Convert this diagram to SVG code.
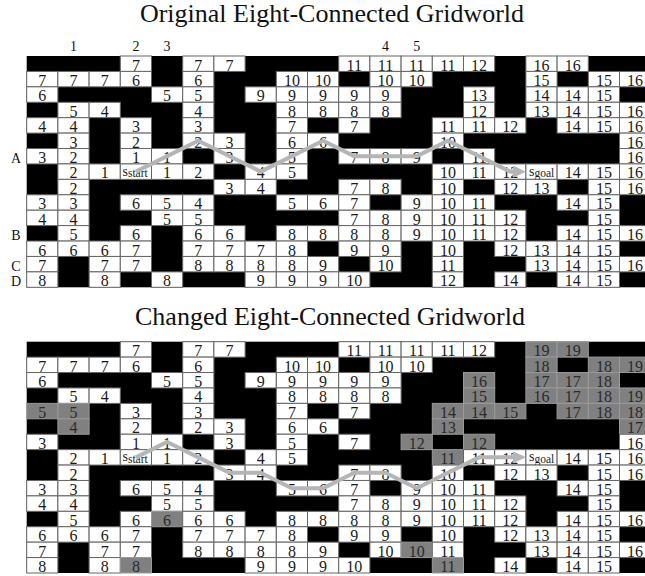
<svg xmlns="http://www.w3.org/2000/svg" width="645" height="576" viewBox="0 0 645 576">
<style>
.bg{fill:#000}
rect.w{fill:#fff;stroke:#666;stroke-width:1;width:31.2px;height:15.42px}
rect.g{fill:#808080;stroke:#9a9a9a;stroke-width:1;width:31.2px;height:15.42px}
.t{font-family:"Liberation Serif","Times New Roman",serif;font-size:16px;text-anchor:middle;fill:#1a1a1a}
.gt{fill:#2a2a2a}
.s{font-family:"Liberation Serif","Times New Roman",serif;fill:#1a1a1a}
.ttl{font-family:"Liberation Serif","Times New Roman",serif;font-size:26px;text-anchor:middle;fill:#111}
.lbl{font-family:"Liberation Serif","Times New Roman",serif;font-size:14px;text-anchor:middle;fill:#111}
.pth{fill:none;stroke:#b5b5b5;stroke-width:4}
</style>
<defs>
<marker id="ah" markerUnits="userSpaceOnUse" markerWidth="14" markerHeight="13" refX="3" refY="6" orient="auto"><path d="M0,0 L13,6 L0,12 z" fill="#b5b5b5"/></marker>
</defs>

<text class="ttl" x="332" y="21.5">Original Eight-Connected Gridworld</text>
<g id="labels" class="lbl">
<text x="73.5" y="50.5">1</text><text x="135.9" y="50.5">2</text><text x="167.1" y="50.5">3</text><text x="385.5" y="50.5">4</text><text x="416.7" y="50.5">5</text>
<text x="16" y="162.5">A</text><text x="16" y="239.6">B</text><text x="16" y="270.5">C</text><text x="16" y="285.9">D</text>
</g>

<g id="grid-original">
<rect class="bg" x="26.7" y="56" width="620" height="231.3"/>
<g transform="translate(0,56)"><rect class="w" x="120.3"/><rect class="w" x="182.7"/><rect class="w" x="213.9"/><rect class="w" x="338.7"/><rect class="w" x="369.9"/><rect class="w" x="401.1"/><rect class="w" x="432.3"/><rect class="w" x="463.5"/><rect class="w" x="525.9"/><rect class="w" x="557.1"/>
<text class="t" y="14.5"><tspan x="135.9">7</tspan><tspan x="198.3">7</tspan><tspan x="229.5">7</tspan><tspan x="354.3">11</tspan><tspan x="385.5">11</tspan><tspan x="416.7">11</tspan><tspan x="447.9">11</tspan><tspan x="479.1">12</tspan><tspan x="541.5">16</tspan><tspan x="572.7">16</tspan></text></g>
<g transform="translate(0,71.42)"><rect class="w" x="26.7"/><rect class="w" x="57.9"/><rect class="w" x="89.1"/><rect class="w" x="120.3"/><rect class="w" x="182.7"/><rect class="w" x="276.3"/><rect class="w" x="307.5"/><rect class="w" x="369.9"/><rect class="w" x="401.1"/><rect class="w" x="525.9"/><rect class="w" x="588.3"/><rect class="w" x="619.5"/>
<text class="t" y="14.5"><tspan x="42.3">7</tspan><tspan x="73.5">7</tspan><tspan x="104.7">7</tspan><tspan x="135.9">6</tspan><tspan x="198.3">6</tspan><tspan x="291.9">10</tspan><tspan x="323.1">10</tspan><tspan x="385.5">10</tspan><tspan x="416.7">10</tspan><tspan x="541.5">15</tspan><tspan x="603.9">15</tspan><tspan x="635.1">16</tspan></text></g>
<g transform="translate(0,86.84)"><rect class="w" x="26.7"/><rect class="w" x="151.5"/><rect class="w" x="182.7"/><rect class="w" x="245.1"/><rect class="w" x="276.3"/><rect class="w" x="307.5"/><rect class="w" x="338.7"/><rect class="w" x="369.9"/><rect class="w" x="463.5"/><rect class="w" x="525.9"/><rect class="w" x="557.1"/><rect class="w" x="588.3"/>
<text class="t" y="14.5"><tspan x="42.3">6</tspan><tspan x="167.1">5</tspan><tspan x="198.3">5</tspan><tspan x="260.7">9</tspan><tspan x="291.9">9</tspan><tspan x="323.1">9</tspan><tspan x="354.3">9</tspan><tspan x="385.5">9</tspan><tspan x="479.1">13</tspan><tspan x="541.5">14</tspan><tspan x="572.7">14</tspan><tspan x="603.9">15</tspan></text></g>
<g transform="translate(0,102.26)"><rect class="w" x="57.9"/><rect class="w" x="89.1"/><rect class="w" x="182.7"/><rect class="w" x="276.3"/><rect class="w" x="307.5"/><rect class="w" x="338.7"/><rect class="w" x="369.9"/><rect class="w" x="463.5"/><rect class="w" x="525.9"/><rect class="w" x="557.1"/><rect class="w" x="588.3"/><rect class="w" x="619.5"/>
<text class="t" y="14.5"><tspan x="73.5">5</tspan><tspan x="104.7">4</tspan><tspan x="198.3">4</tspan><tspan x="291.9">8</tspan><tspan x="323.1">8</tspan><tspan x="354.3">8</tspan><tspan x="385.5">8</tspan><tspan x="479.1">12</tspan><tspan x="541.5">13</tspan><tspan x="572.7">14</tspan><tspan x="603.9">15</tspan><tspan x="635.1">16</tspan></text></g>
<g transform="translate(0,117.68)"><rect class="w" x="26.7"/><rect class="w" x="57.9"/><rect class="w" x="120.3"/><rect class="w" x="182.7"/><rect class="w" x="276.3"/><rect class="w" x="338.7"/><rect class="w" x="432.3"/><rect class="w" x="463.5"/><rect class="w" x="494.7"/><rect class="w" x="557.1"/><rect class="w" x="588.3"/><rect class="w" x="619.5"/>
<text class="t" y="14.5"><tspan x="42.3">4</tspan><tspan x="73.5">4</tspan><tspan x="135.9">3</tspan><tspan x="198.3">3</tspan><tspan x="291.9">7</tspan><tspan x="354.3">7</tspan><tspan x="447.9">11</tspan><tspan x="479.1">11</tspan><tspan x="510.3">12</tspan><tspan x="572.7">14</tspan><tspan x="603.9">15</tspan><tspan x="635.1">16</tspan></text></g>
<g transform="translate(0,133.1)"><rect class="w" x="57.9"/><rect class="w" x="120.3"/><rect class="w" x="182.7"/><rect class="w" x="213.9"/><rect class="w" x="276.3"/><rect class="w" x="307.5"/><rect class="w" x="432.3"/><rect class="w" x="619.5"/>
<text class="t" y="14.5"><tspan x="73.5">3</tspan><tspan x="135.9">2</tspan><tspan x="198.3">2</tspan><tspan x="229.5">3</tspan><tspan x="291.9">6</tspan><tspan x="323.1">6</tspan><tspan x="447.9">10</tspan><tspan x="635.1">16</tspan></text></g>
<g transform="translate(0,148.52)"><rect class="w" x="26.7"/><rect class="w" x="57.9"/><rect class="w" x="120.3"/><rect class="w" x="151.5"/><rect class="w" x="213.9"/><rect class="w" x="276.3"/><rect class="w" x="338.7"/><rect class="w" x="369.9"/><rect class="w" x="401.1"/><rect class="w" x="463.5"/><rect class="w" x="619.5"/>
<text class="t" y="14.5"><tspan x="42.3">3</tspan><tspan x="73.5">2</tspan><tspan x="135.9">1</tspan><tspan x="167.1">1</tspan><tspan x="229.5">3</tspan><tspan x="291.9">5</tspan><tspan x="354.3">7</tspan><tspan x="385.5">8</tspan><tspan x="416.7">9</tspan><tspan x="479.1">11</tspan><tspan x="635.1">16</tspan></text></g>
<g transform="translate(0,163.94)"><rect class="w" x="57.9"/><rect class="w" x="89.1"/><rect class="w" x="120.3"/><rect class="w" x="151.5"/><rect class="w" x="182.7"/><rect class="w" x="245.1"/><rect class="w" x="276.3"/><rect class="w" x="432.3"/><rect class="w" x="463.5"/><rect class="w" x="494.7"/><rect class="w" x="525.9"/><rect class="w" x="557.1"/><rect class="w" x="588.3"/><rect class="w" x="619.5"/>
<text class="t" y="14.5"><tspan x="73.5">2</tspan><tspan x="104.7">1</tspan><tspan x="167.1">1</tspan><tspan x="198.3">2</tspan><tspan x="260.7">4</tspan><tspan x="291.9">5</tspan><tspan x="447.9">10</tspan><tspan x="479.1">11</tspan><tspan x="510.3">12</tspan><tspan x="572.7">14</tspan><tspan x="603.9">15</tspan><tspan x="635.1">16</tspan></text>
<text class="s" x="122.5" y="11.8" font-size="14">s<tspan dy="1.3" font-size="11.5">start</tspan></text>
<text class="s" x="529" y="11.8" font-size="14">s<tspan dy="1.3" font-size="11.5">goal</tspan></text></g>
<g transform="translate(0,179.36)"><rect class="w" x="57.9"/><rect class="w" x="213.9"/><rect class="w" x="245.1"/><rect class="w" x="338.7"/><rect class="w" x="369.9"/><rect class="w" x="432.3"/><rect class="w" x="494.7"/><rect class="w" x="525.9"/><rect class="w" x="588.3"/><rect class="w" x="619.5"/>
<text class="t" y="14.5"><tspan x="73.5">2</tspan><tspan x="229.5">3</tspan><tspan x="260.7">4</tspan><tspan x="354.3">7</tspan><tspan x="385.5">8</tspan><tspan x="447.9">10</tspan><tspan x="510.3">12</tspan><tspan x="541.5">13</tspan><tspan x="603.9">15</tspan><tspan x="635.1">16</tspan></text></g>
<g transform="translate(0,194.78)"><rect class="w" x="26.7"/><rect class="w" x="57.9"/><rect class="w" x="120.3"/><rect class="w" x="151.5"/><rect class="w" x="182.7"/><rect class="w" x="276.3"/><rect class="w" x="307.5"/><rect class="w" x="338.7"/><rect class="w" x="401.1"/><rect class="w" x="432.3"/><rect class="w" x="463.5"/><rect class="w" x="557.1"/><rect class="w" x="588.3"/>
<text class="t" y="14.5"><tspan x="42.3">3</tspan><tspan x="73.5">3</tspan><tspan x="135.9">6</tspan><tspan x="167.1">5</tspan><tspan x="198.3">4</tspan><tspan x="291.9">5</tspan><tspan x="323.1">6</tspan><tspan x="354.3">7</tspan><tspan x="416.7">9</tspan><tspan x="447.9">10</tspan><tspan x="479.1">11</tspan><tspan x="572.7">14</tspan><tspan x="603.9">15</tspan></text></g>
<g transform="translate(0,210.2)"><rect class="w" x="26.7"/><rect class="w" x="57.9"/><rect class="w" x="151.5"/><rect class="w" x="182.7"/><rect class="w" x="338.7"/><rect class="w" x="369.9"/><rect class="w" x="401.1"/><rect class="w" x="432.3"/><rect class="w" x="463.5"/><rect class="w" x="494.7"/><rect class="w" x="588.3"/>
<text class="t" y="14.5"><tspan x="42.3">4</tspan><tspan x="73.5">4</tspan><tspan x="167.1">5</tspan><tspan x="198.3">5</tspan><tspan x="354.3">7</tspan><tspan x="385.5">8</tspan><tspan x="416.7">9</tspan><tspan x="447.9">10</tspan><tspan x="479.1">11</tspan><tspan x="510.3">12</tspan><tspan x="603.9">15</tspan></text></g>
<g transform="translate(0,225.62)"><rect class="w" x="57.9"/><rect class="w" x="120.3"/><rect class="w" x="182.7"/><rect class="w" x="213.9"/><rect class="w" x="276.3"/><rect class="w" x="307.5"/><rect class="w" x="338.7"/><rect class="w" x="369.9"/><rect class="w" x="401.1"/><rect class="w" x="432.3"/><rect class="w" x="494.7"/><rect class="w" x="557.1"/><rect class="w" x="588.3"/><rect class="w" x="619.5"/><rect class="w" x="463.5"/>
<text class="t" y="14.5"><tspan x="73.5">5</tspan><tspan x="135.9">6</tspan><tspan x="198.3">6</tspan><tspan x="229.5">6</tspan><tspan x="291.9">8</tspan><tspan x="323.1">8</tspan><tspan x="354.3">8</tspan><tspan x="385.5">8</tspan><tspan x="416.7">9</tspan><tspan x="447.9">10</tspan><tspan x="479.1">11</tspan><tspan x="510.3">12</tspan><tspan x="572.7">14</tspan><tspan x="603.9">15</tspan><tspan x="635.1">16</tspan></text></g>
<g transform="translate(0,241.04)"><rect class="w" x="26.7"/><rect class="w" x="57.9"/><rect class="w" x="89.1"/><rect class="w" x="120.3"/><rect class="w" x="182.7"/><rect class="w" x="213.9"/><rect class="w" x="245.1"/><rect class="w" x="276.3"/><rect class="w" x="338.7"/><rect class="w" x="369.9"/><rect class="w" x="432.3"/><rect class="w" x="494.7"/><rect class="w" x="525.9"/><rect class="w" x="557.1"/><rect class="w" x="588.3"/>
<text class="t" y="14.5"><tspan x="42.3">6</tspan><tspan x="73.5">6</tspan><tspan x="104.7">6</tspan><tspan x="135.9">7</tspan><tspan x="198.3">7</tspan><tspan x="229.5">7</tspan><tspan x="260.7">7</tspan><tspan x="291.9">8</tspan><tspan x="354.3">9</tspan><tspan x="385.5">9</tspan><tspan x="447.9">10</tspan><tspan x="510.3">12</tspan><tspan x="541.5">13</tspan><tspan x="572.7">14</tspan><tspan x="603.9">15</tspan></text></g>
<g transform="translate(0,256.46)"><rect class="w" x="26.7"/><rect class="w" x="89.1"/><rect class="w" x="120.3"/><rect class="w" x="182.7"/><rect class="w" x="213.9"/><rect class="w" x="245.1"/><rect class="w" x="276.3"/><rect class="w" x="307.5"/><rect class="w" x="369.9"/><rect class="w" x="432.3"/><rect class="w" x="525.9"/><rect class="w" x="557.1"/><rect class="w" x="588.3"/><rect class="w" x="619.5"/>
<text class="t" y="14.5"><tspan x="42.3">7</tspan><tspan x="104.7">7</tspan><tspan x="135.9">7</tspan><tspan x="198.3">8</tspan><tspan x="229.5">8</tspan><tspan x="260.7">8</tspan><tspan x="291.9">8</tspan><tspan x="323.1">9</tspan><tspan x="385.5">10</tspan><tspan x="447.9">11</tspan><tspan x="541.5">13</tspan><tspan x="572.7">14</tspan><tspan x="603.9">15</tspan><tspan x="635.1">16</tspan></text></g>
<g transform="translate(0,271.88)"><rect class="w" x="26.7"/><rect class="w" x="89.1"/><rect class="w" x="151.5"/><rect class="w" x="245.1"/><rect class="w" x="276.3"/><rect class="w" x="307.5"/><rect class="w" x="338.7"/><rect class="w" x="432.3"/><rect class="w" x="494.7"/><rect class="w" x="557.1"/><rect class="w" x="588.3"/>
<text class="t" y="14.5"><tspan x="42.3">8</tspan><tspan x="104.7">8</tspan><tspan x="167.1">8</tspan><tspan x="260.7">9</tspan><tspan x="291.9">9</tspan><tspan x="323.1">9</tspan><tspan x="354.3">10</tspan><tspan x="447.9">12</tspan><tspan x="510.3">14</tspan><tspan x="572.7">14</tspan><tspan x="603.9">15</tspan></text></g>
</g>

<text class="ttl" x="330" y="325">Changed Eight-Connected Gridworld</text>

<g id="grid-changed">
<rect class="bg" x="26.7" y="341.7" width="620" height="231.3"/>
<g transform="translate(0,341.7)"><rect class="w" x="120.3"/><rect class="w" x="182.7"/><rect class="w" x="213.9"/><rect class="w" x="338.7"/><rect class="w" x="369.9"/><rect class="w" x="401.1"/><rect class="w" x="432.3"/><rect class="w" x="463.5"/><rect class="g" x="525.9"/><rect class="g" x="557.1"/>
<text class="t" y="14.5"><tspan x="135.9">7</tspan><tspan x="198.3">7</tspan><tspan x="229.5">7</tspan><tspan x="354.3">11</tspan><tspan x="385.5">11</tspan><tspan x="416.7">11</tspan><tspan x="447.9">11</tspan><tspan x="479.1">12</tspan><tspan class="gt" x="541.5">19</tspan><tspan class="gt" x="572.7">19</tspan></text></g>
<g transform="translate(0,357.12)"><rect class="w" x="26.7"/><rect class="w" x="57.9"/><rect class="w" x="89.1"/><rect class="w" x="120.3"/><rect class="w" x="182.7"/><rect class="w" x="276.3"/><rect class="w" x="307.5"/><rect class="w" x="369.9"/><rect class="w" x="401.1"/><rect class="g" x="525.9"/><rect class="g" x="588.3"/><rect class="g" x="619.5"/>
<text class="t" y="14.5"><tspan x="42.3">7</tspan><tspan x="73.5">7</tspan><tspan x="104.7">7</tspan><tspan x="135.9">6</tspan><tspan x="198.3">6</tspan><tspan x="291.9">10</tspan><tspan x="323.1">10</tspan><tspan x="385.5">10</tspan><tspan x="416.7">10</tspan><tspan class="gt" x="541.5">18</tspan><tspan class="gt" x="603.9">18</tspan><tspan class="gt" x="635.1">19</tspan></text></g>
<g transform="translate(0,372.54)"><rect class="w" x="26.7"/><rect class="w" x="151.5"/><rect class="w" x="182.7"/><rect class="w" x="245.1"/><rect class="w" x="276.3"/><rect class="w" x="307.5"/><rect class="w" x="338.7"/><rect class="w" x="369.9"/><rect class="g" x="463.5"/><rect class="g" x="525.9"/><rect class="g" x="557.1"/><rect class="g" x="588.3"/>
<text class="t" y="14.5"><tspan x="42.3">6</tspan><tspan x="167.1">5</tspan><tspan x="198.3">5</tspan><tspan x="260.7">9</tspan><tspan x="291.9">9</tspan><tspan x="323.1">9</tspan><tspan x="354.3">9</tspan><tspan x="385.5">9</tspan><tspan class="gt" x="479.1">16</tspan><tspan class="gt" x="541.5">17</tspan><tspan class="gt" x="572.7">17</tspan><tspan class="gt" x="603.9">18</tspan></text></g>
<g transform="translate(0,387.96)"><rect class="w" x="57.9"/><rect class="w" x="89.1"/><rect class="w" x="182.7"/><rect class="w" x="276.3"/><rect class="w" x="307.5"/><rect class="w" x="338.7"/><rect class="w" x="369.9"/><rect class="g" x="463.5"/><rect class="g" x="525.9"/><rect class="g" x="557.1"/><rect class="g" x="588.3"/><rect class="g" x="619.5"/>
<text class="t" y="14.5"><tspan x="73.5">5</tspan><tspan x="104.7">4</tspan><tspan x="198.3">4</tspan><tspan x="291.9">8</tspan><tspan x="323.1">8</tspan><tspan x="354.3">8</tspan><tspan x="385.5">8</tspan><tspan class="gt" x="479.1">15</tspan><tspan class="gt" x="541.5">16</tspan><tspan class="gt" x="572.7">17</tspan><tspan class="gt" x="603.9">18</tspan><tspan class="gt" x="635.1">19</tspan></text></g>
<g transform="translate(0,403.38)"><rect class="g" x="26.7"/><rect class="g" x="57.9"/><rect class="w" x="120.3"/><rect class="w" x="182.7"/><rect class="w" x="276.3"/><rect class="w" x="338.7"/><rect class="g" x="432.3"/><rect class="g" x="463.5"/><rect class="g" x="494.7"/><rect class="g" x="557.1"/><rect class="g" x="588.3"/><rect class="g" x="619.5"/>
<text class="t" y="14.5"><tspan class="gt" x="42.3">5</tspan><tspan class="gt" x="73.5">5</tspan><tspan x="135.9">3</tspan><tspan x="198.3">3</tspan><tspan x="291.9">7</tspan><tspan x="354.3">7</tspan><tspan class="gt" x="447.9">14</tspan><tspan class="gt" x="479.1">14</tspan><tspan class="gt" x="510.3">15</tspan><tspan class="gt" x="572.7">17</tspan><tspan class="gt" x="603.9">18</tspan><tspan class="gt" x="635.1">18</tspan></text></g>
<g transform="translate(0,418.8)"><rect class="g" x="57.9"/><rect class="w" x="120.3"/><rect class="w" x="182.7"/><rect class="w" x="213.9"/><rect class="w" x="276.3"/><rect class="w" x="307.5"/><rect class="g" x="432.3"/><rect class="g" x="619.5"/>
<text class="t" y="14.5"><tspan class="gt" x="73.5">4</tspan><tspan x="135.9">2</tspan><tspan x="198.3">2</tspan><tspan x="229.5">3</tspan><tspan x="291.9">6</tspan><tspan x="323.1">6</tspan><tspan class="gt" x="447.9">13</tspan><tspan class="gt" x="635.1">17</tspan></text></g>
<g transform="translate(0,434.22)"><rect class="w" x="26.7"/><rect class="w" x="120.3"/><rect class="w" x="151.5"/><rect class="w" x="213.9"/><rect class="w" x="276.3"/><rect class="w" x="338.7"/><rect class="g" x="401.1"/><rect class="g" x="463.5"/><rect class="w" x="619.5"/>
<text class="t" y="14.5"><tspan x="42.3">3</tspan><tspan x="135.9">1</tspan><tspan x="167.1">1</tspan><tspan x="229.5">3</tspan><tspan x="291.9">5</tspan><tspan x="354.3">7</tspan><tspan class="gt" x="416.7">12</tspan><tspan class="gt" x="479.1">12</tspan><tspan x="635.1">16</tspan></text></g>
<g transform="translate(0,449.64)"><rect class="w" x="57.9"/><rect class="w" x="89.1"/><rect class="w" x="120.3"/><rect class="w" x="151.5"/><rect class="w" x="182.7"/><rect class="w" x="245.1"/><rect class="w" x="276.3"/><rect class="g" x="432.3"/><rect class="w" x="463.5"/><rect class="w" x="494.7"/><rect class="w" x="525.9"/><rect class="w" x="557.1"/><rect class="w" x="588.3"/><rect class="w" x="619.5"/>
<text class="t" y="14.5"><tspan x="73.5">2</tspan><tspan x="104.7">1</tspan><tspan x="167.1">1</tspan><tspan x="198.3">2</tspan><tspan x="260.7">4</tspan><tspan x="291.9">5</tspan><tspan class="gt" x="447.9">11</tspan><tspan x="479.1">11</tspan><tspan x="510.3">12</tspan><tspan x="572.7">14</tspan><tspan x="603.9">15</tspan><tspan x="635.1">16</tspan></text>
<text class="s" x="122.5" y="11.8" font-size="14">s<tspan dy="1.3" font-size="11.5">start</tspan></text>
<text class="s" x="529" y="11.8" font-size="14">s<tspan dy="1.3" font-size="11.5">goal</tspan></text></g>
<g transform="translate(0,465.06)"><rect class="w" x="57.9"/><rect class="w" x="213.9"/><rect class="w" x="245.1"/><rect class="w" x="338.7"/><rect class="w" x="369.9"/><rect class="w" x="432.3"/><rect class="w" x="494.7"/><rect class="w" x="525.9"/><rect class="w" x="588.3"/><rect class="w" x="619.5"/>
<text class="t" y="14.5"><tspan x="73.5">2</tspan><tspan x="229.5">3</tspan><tspan x="260.7">4</tspan><tspan x="354.3">7</tspan><tspan x="385.5">8</tspan><tspan x="447.9">10</tspan><tspan x="510.3">12</tspan><tspan x="541.5">13</tspan><tspan x="603.9">15</tspan><tspan x="635.1">16</tspan></text></g>
<g transform="translate(0,480.48)"><rect class="w" x="26.7"/><rect class="w" x="57.9"/><rect class="w" x="120.3"/><rect class="w" x="151.5"/><rect class="w" x="182.7"/><rect class="w" x="276.3"/><rect class="w" x="307.5"/><rect class="w" x="338.7"/><rect class="w" x="401.1"/><rect class="w" x="432.3"/><rect class="w" x="463.5"/><rect class="w" x="557.1"/><rect class="w" x="588.3"/>
<text class="t" y="14.5"><tspan x="42.3">3</tspan><tspan x="73.5">3</tspan><tspan x="135.9">6</tspan><tspan x="167.1">5</tspan><tspan x="198.3">4</tspan><tspan x="291.9">5</tspan><tspan x="323.1">6</tspan><tspan x="354.3">7</tspan><tspan x="416.7">9</tspan><tspan x="447.9">10</tspan><tspan x="479.1">11</tspan><tspan x="572.7">14</tspan><tspan x="603.9">15</tspan></text></g>
<g transform="translate(0,495.9)"><rect class="w" x="26.7"/><rect class="w" x="57.9"/><rect class="w" x="151.5"/><rect class="w" x="182.7"/><rect class="w" x="338.7"/><rect class="w" x="369.9"/><rect class="w" x="401.1"/><rect class="w" x="432.3"/><rect class="w" x="463.5"/><rect class="w" x="494.7"/><rect class="w" x="588.3"/>
<text class="t" y="14.5"><tspan x="42.3">4</tspan><tspan x="73.5">4</tspan><tspan x="167.1">5</tspan><tspan x="198.3">5</tspan><tspan x="354.3">7</tspan><tspan x="385.5">8</tspan><tspan x="416.7">9</tspan><tspan x="447.9">10</tspan><tspan x="479.1">11</tspan><tspan x="510.3">12</tspan><tspan x="603.9">15</tspan></text></g>
<g transform="translate(0,511.32)"><rect class="w" x="57.9"/><rect class="w" x="120.3"/><rect class="g" x="151.5"/><rect class="w" x="182.7"/><rect class="w" x="213.9"/><rect class="w" x="276.3"/><rect class="w" x="307.5"/><rect class="w" x="338.7"/><rect class="w" x="369.9"/><rect class="w" x="401.1"/><rect class="w" x="432.3"/><rect class="w" x="463.5"/><rect class="w" x="494.7"/><rect class="w" x="557.1"/><rect class="w" x="588.3"/><rect class="w" x="619.5"/>
<text class="t" y="14.5"><tspan x="73.5">5</tspan><tspan x="135.9">6</tspan><tspan class="gt" x="167.1">6</tspan><tspan x="198.3">6</tspan><tspan x="229.5">6</tspan><tspan x="291.9">8</tspan><tspan x="323.1">8</tspan><tspan x="354.3">8</tspan><tspan x="385.5">8</tspan><tspan x="416.7">9</tspan><tspan x="447.9">10</tspan><tspan x="479.1">11</tspan><tspan x="510.3">12</tspan><tspan x="572.7">14</tspan><tspan x="603.9">15</tspan><tspan x="635.1">16</tspan></text></g>
<g transform="translate(0,526.74)"><rect class="w" x="26.7"/><rect class="w" x="57.9"/><rect class="w" x="89.1"/><rect class="w" x="120.3"/><rect class="w" x="182.7"/><rect class="w" x="213.9"/><rect class="w" x="245.1"/><rect class="w" x="276.3"/><rect class="w" x="338.7"/><rect class="w" x="369.9"/><rect class="w" x="432.3"/><rect class="w" x="494.7"/><rect class="w" x="525.9"/><rect class="w" x="557.1"/><rect class="w" x="588.3"/>
<text class="t" y="14.5"><tspan x="42.3">6</tspan><tspan x="73.5">6</tspan><tspan x="104.7">6</tspan><tspan x="135.9">7</tspan><tspan x="198.3">7</tspan><tspan x="229.5">7</tspan><tspan x="260.7">7</tspan><tspan x="291.9">8</tspan><tspan x="354.3">9</tspan><tspan x="385.5">9</tspan><tspan x="447.9">10</tspan><tspan x="510.3">12</tspan><tspan x="541.5">13</tspan><tspan x="572.7">14</tspan><tspan x="603.9">15</tspan></text></g>
<g transform="translate(0,542.16)"><rect class="w" x="26.7"/><rect class="w" x="89.1"/><rect class="w" x="120.3"/><rect class="w" x="182.7"/><rect class="w" x="213.9"/><rect class="w" x="245.1"/><rect class="w" x="276.3"/><rect class="w" x="307.5"/><rect class="w" x="369.9"/><rect class="g" x="401.1"/><rect class="w" x="432.3"/><rect class="w" x="525.9"/><rect class="w" x="557.1"/><rect class="w" x="588.3"/><rect class="w" x="619.5"/>
<text class="t" y="14.5"><tspan x="42.3">7</tspan><tspan x="104.7">7</tspan><tspan x="135.9">7</tspan><tspan x="198.3">8</tspan><tspan x="229.5">8</tspan><tspan x="260.7">8</tspan><tspan x="291.9">8</tspan><tspan x="323.1">9</tspan><tspan x="385.5">10</tspan><tspan class="gt" x="416.7">10</tspan><tspan x="447.9">11</tspan><tspan x="541.5">13</tspan><tspan x="572.7">14</tspan><tspan x="603.9">15</tspan><tspan x="635.1">16</tspan></text></g>
<g transform="translate(0,557.58)"><rect class="w" x="26.7"/><rect class="w" x="89.1"/><rect class="g" x="120.3"/><rect class="w" x="245.1"/><rect class="w" x="276.3"/><rect class="w" x="307.5"/><rect class="w" x="338.7"/><rect class="g" x="432.3"/><rect class="w" x="494.7"/><rect class="w" x="557.1"/><rect class="w" x="588.3"/>
<text class="t" y="14.5"><tspan x="42.3">8</tspan><tspan x="104.7">8</tspan><tspan class="gt" x="135.9">8</tspan><tspan x="260.7">9</tspan><tspan x="291.9">9</tspan><tspan x="323.1">9</tspan><tspan x="354.3">10</tspan><tspan class="gt" x="447.9">11</tspan><tspan x="510.3">14</tspan><tspan x="572.7">14</tspan><tspan x="603.9">15</tspan></text></g>
</g>

<g id="connectors">
<polyline class="pth" marker-end="url(#ah)" points="135.9,171.65 198.3,140.81 260.7,171.65 323.1,140.81 354.3,156.23 416.7,156.23 447.9,140.81 510.3,171.65 516,171.65"/>
<polyline class="pth" marker-end="url(#ah)" points="135.9,457.35 167.1,441.93 198.3,457.35 229.5,472.77 260.7,472.77 291.9,488.19 323.1,488.19 354.3,472.77 385.5,472.77 416.7,488.19 447.9,472.77 479.1,457.35 510.3,457.35 516,457.35"/>
</g>
</svg>
